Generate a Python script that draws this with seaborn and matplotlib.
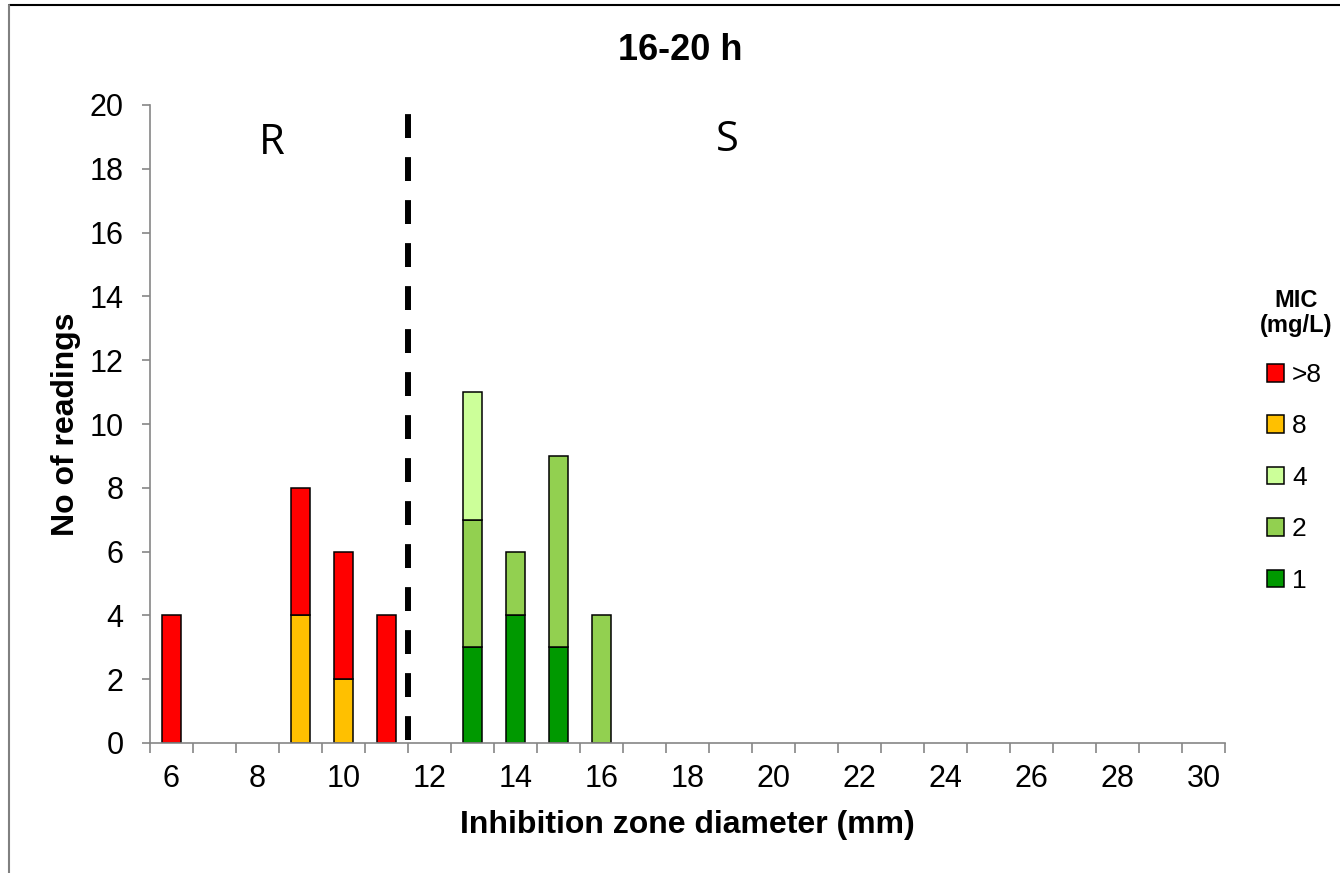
import matplotlib
matplotlib.use("Agg")
import matplotlib.pyplot as plt
from matplotlib.lines import Line2D
from matplotlib.patches import Patch
from matplotlib.ticker import MultipleLocator, FixedLocator
import seaborn as sns
import pandas as pd

# dados
diameters = [6, 9, 10, 11, 13, 14, 15, 16]
mic_levels = ['>8', '8', '4', '2', '1']
mic_gt8 = [4, 4, 4, 4, 0, 0, 0, 0]
mic_8 = [0, 4, 2, 0, 0, 0, 0, 0]
mic_4 = [0, 0, 0, 0, 4, 0, 0, 0]
mic_2 = [0, 0, 0, 0, 4, 2, 6, 4]
mic_1 = [0, 0, 0, 0, 3, 4, 3, 0]
x_labels = list(range(6, 31, 2))
colors = ['#FF0000', '#FFC000', '#CCFF99', '#92D050', '#009900']

rows = []
for level, counts in zip(mic_levels, [mic_gt8, mic_8, mic_4, mic_2, mic_1]):
    for d, c in zip(diameters, counts):
        if c > 0:
            rows.append({'diameter': d, 'MIC': level, 'count': c})
df = pd.DataFrame(rows)

sns.set_style('white')
plt.rcParams['font.family'] = ['Liberation Sans', 'DejaVu Sans']
plt.rcParams['text.color'] = 'black'
plt.rcParams['axes.labelcolor'] = 'black'
plt.rcParams['xtick.color'] = 'black'
plt.rcParams['ytick.color'] = 'black'

fig = plt.figure(figsize=(13.4, 8.73), dpi=100)
ax = fig.add_axes([150/1340, 130/873, 1075/1340, 638/873])

sns.histplot(data=df, x='diameter', weights='count', hue='MIC', hue_order=mic_levels,
             palette=colors, multiple='stack', discrete=True, shrink=0.42,
             edgecolor='black', linewidth=1.1, alpha=1, legend=False, ax=ax)
for p in list(ax.patches):
    if p.get_height() == 0:
        p.remove()

# linha do ponto de corte R/S
ax.plot([11.5, 11.5], [0.1, 19.8], color='black', linewidth=4.3,
        linestyle=(0, (4, 3.2)), solid_capstyle='butt', dash_capstyle='butt')
ax.text(8.33, 18.8, 'R', fontsize=30, family='Open Sans', ha='center', va='center')
ax.text(18.93, 18.9, 'S', fontsize=30, family='Open Sans', ha='center', va='center')

ax.set_xlim(5.5, 30.5)
ax.set_ylim(0, 20)
ax.yaxis.set_major_locator(MultipleLocator(2))
ax.xaxis.set_major_locator(FixedLocator(x_labels))
ax.xaxis.set_minor_locator(FixedLocator([v + 0.5 for v in range(5, 31)]))
ax.tick_params(axis='x', which='major', length=0, pad=15, labelsize=22, bottom=True)
ax.tick_params(axis='x', which='minor', length=7, width=1.2, color='#868686',
               direction='out', bottom=True)
ax.tick_params(axis='y', length=6, width=1.2, color='#868686', direction='out',
               pad=13, labelsize=22, left=True)
for s in ['top', 'right']:
    ax.spines[s].set_visible(False)
for s in ['left', 'bottom']:
    ax.spines[s].set_color('#868686')
    ax.spines[s].set_linewidth(1.2)

ax.set_xlabel('Inhibition zone diameter (mm)', fontsize=23, fontweight='bold', labelpad=12)
ax.set_ylabel('No of readings', fontsize=23, fontweight='bold', labelpad=6)
fig.text(680/1340, 1 - 50/873, '16-20 h', fontsize=26, fontweight='bold', ha='center', va='center')

# legenda
fig.text(1296/1340, 1 - 313/873, 'MIC\n(mg/L)', fontsize=17, fontweight='bold',
         ha='center', va='center', multialignment='center', linespacing=1.15)
handles = [Patch(facecolor=c, edgecolor='black', linewidth=1.1) for c in colors]
leg = fig.legend(handles, mic_levels, loc='upper left',
                 bbox_to_anchor=(1267/1340, 1 - 363/873), frameon=False, fontsize=19,
                 handlelength=0.65, handleheight=0.65, handletextpad=0.3,
                 labelspacing=1.04, borderpad=0, borderaxespad=0)

# moldura
fig.add_artist(Line2D([9/1340, 1], [1 - 5/873, 1 - 5/873], color='black', linewidth=1.5))
fig.add_artist(Line2D([9/1340, 9/1340], [0, 1 - 5/873], color='#808080', linewidth=1.5))

plt.savefig('out.png', dpi=100)
